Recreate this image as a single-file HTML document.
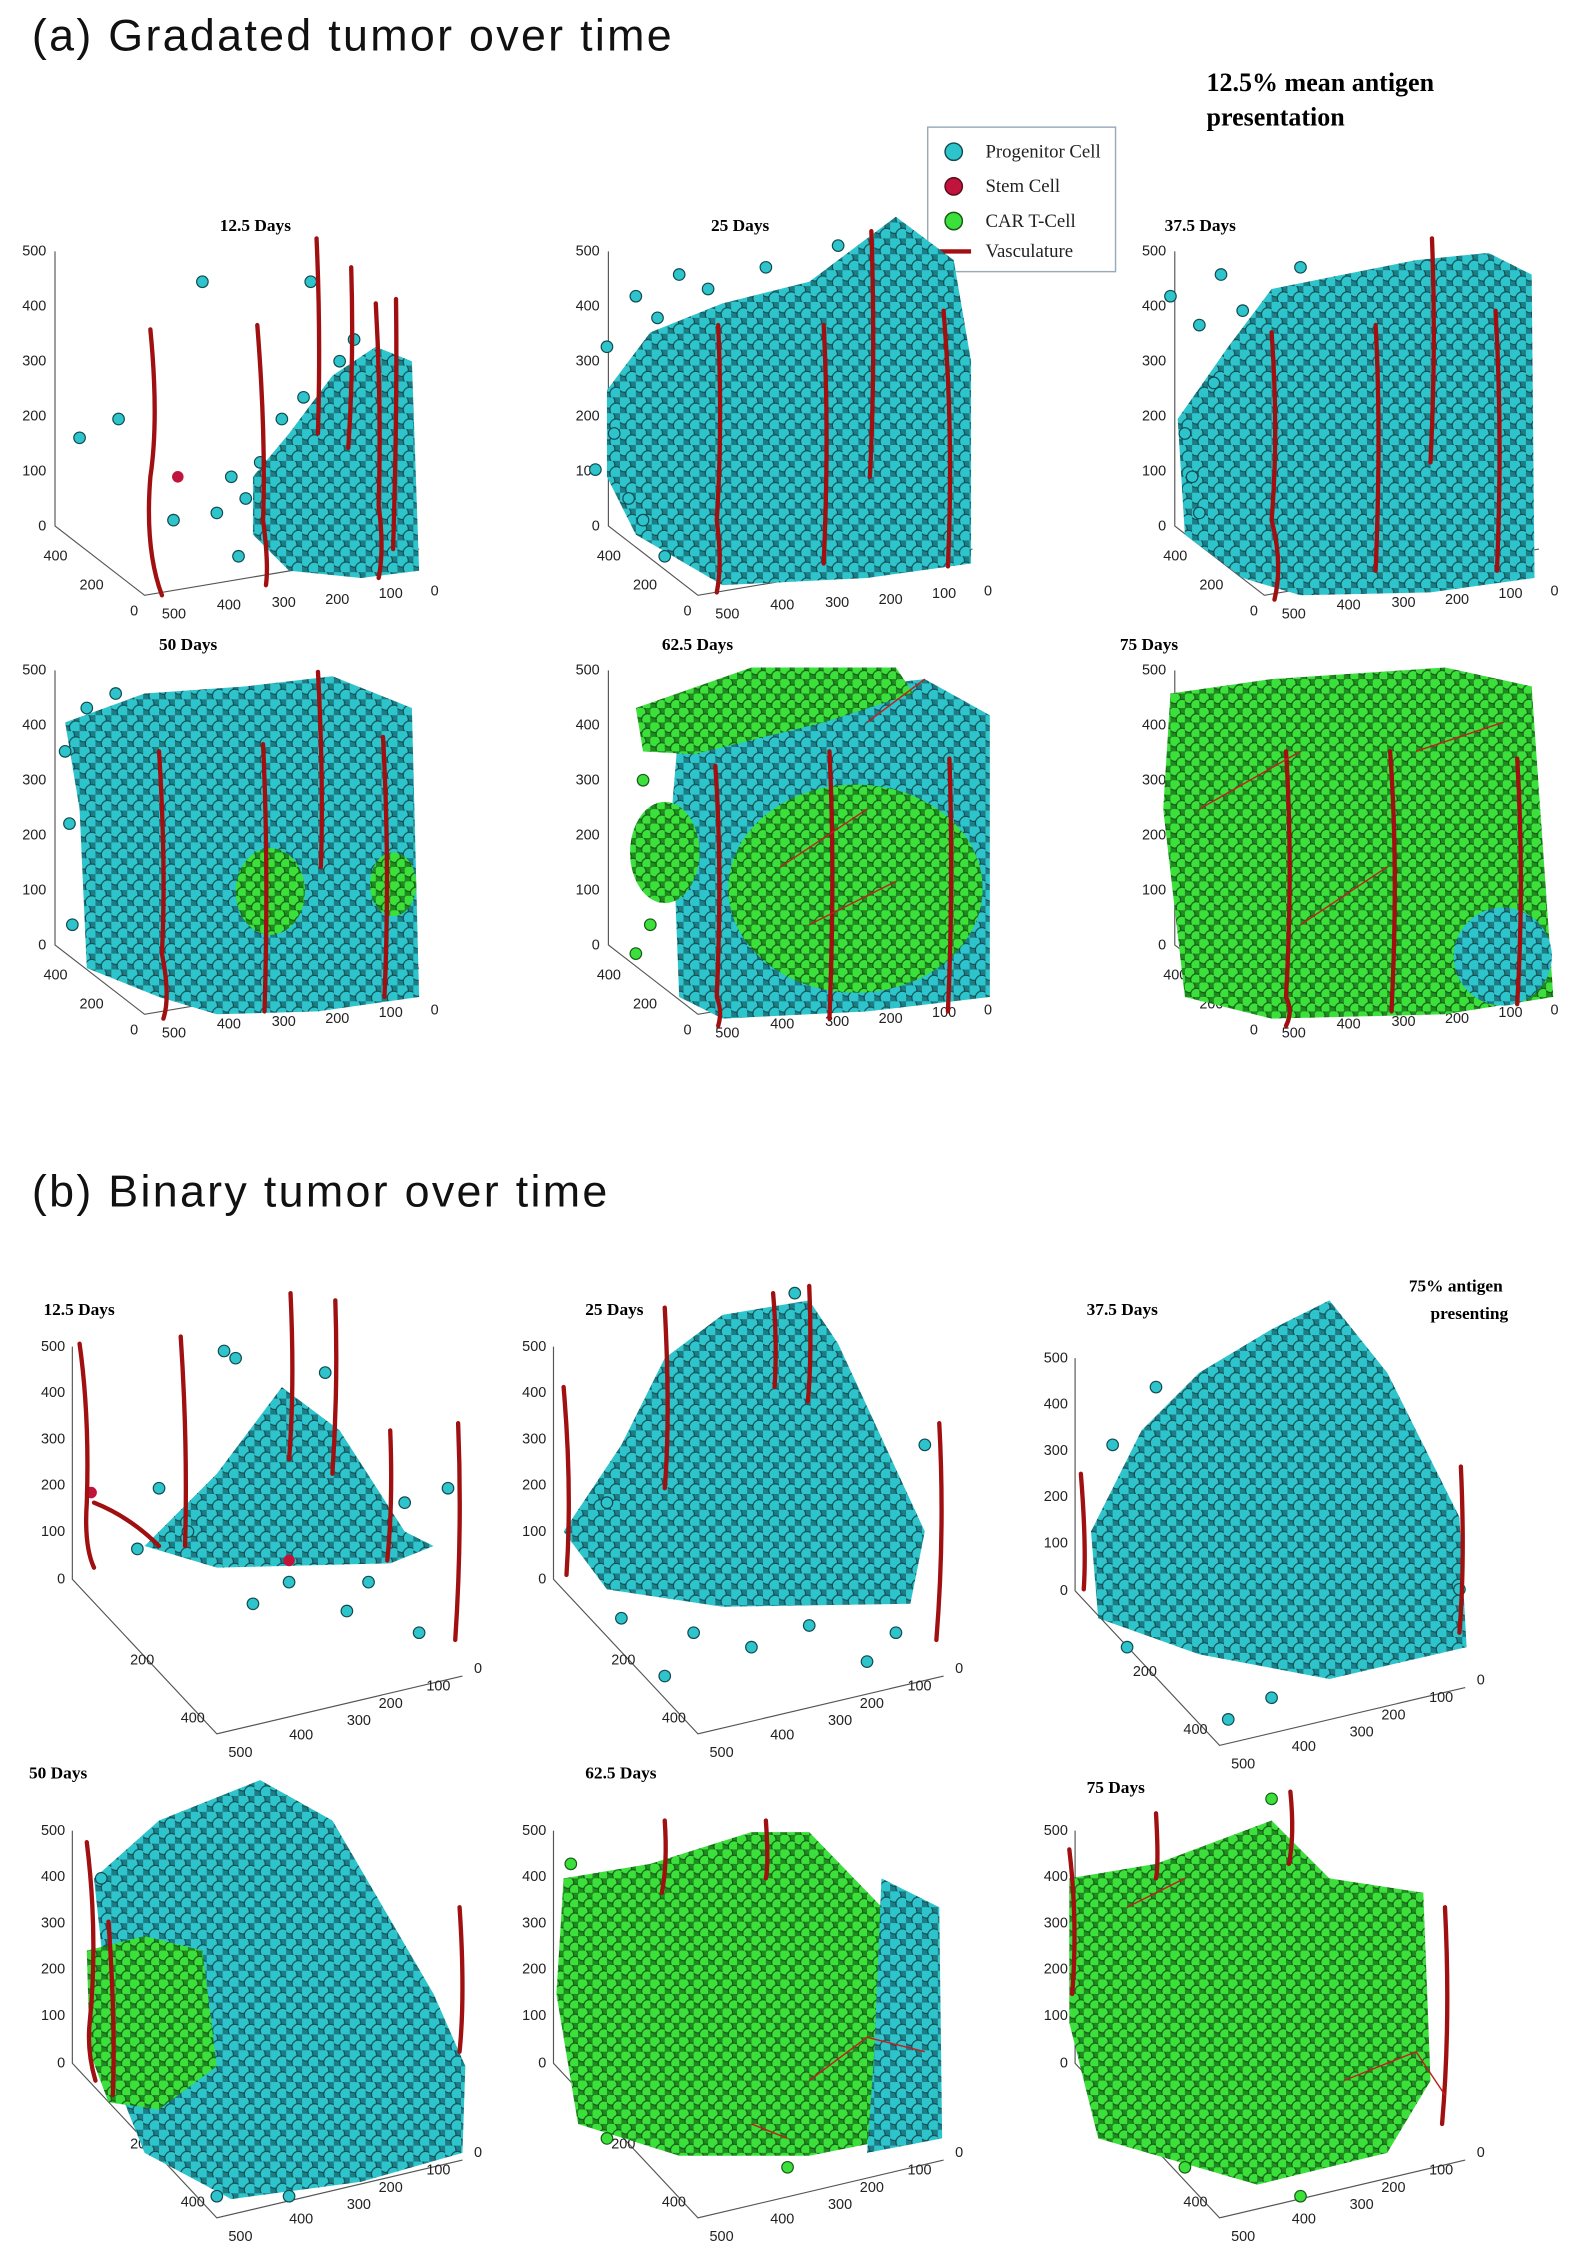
<!DOCTYPE html>
<html><head><meta charset="utf-8">
<style>
html,body{margin:0;padding:0;background:#fff;}
svg{display:block;}
.t{font-family:"Liberation Serif",serif;font-weight:bold;font-size:12px;fill:#000;}
.k{font-family:"Liberation Sans",sans-serif;font-size:10px;fill:#222;}
.lg{font-family:"Liberation Serif",serif;font-size:13px;fill:#222;}
.ax{stroke:#555;stroke-width:0.8;fill:none;}
.v{stroke:#a01010;stroke-width:3;fill:none;stroke-linecap:round;}
.vt{stroke:#c02020;stroke-width:1;fill:none;}
.c circle{fill:#2ec4cc;stroke:#134a50;stroke-width:0.8;}
.g circle{fill:#3be03b;stroke:#175a17;stroke-width:0.8;}
</style></head><body>
<svg width="1578" height="2267" viewBox="0 0 1092 1569" xmlns="http://www.w3.org/2000/svg">
<defs>
<pattern id="cy" width="11" height="11" patternUnits="userSpaceOnUse">
<rect width="11" height="11" fill="#1d7d85"/>
<circle cx="3" cy="3" r="4.5" fill="#2ec4cc" stroke="#134a50" stroke-width="0.8"/>
<circle cx="8.5" cy="8.5" r="4.5" fill="#2ec4cc" stroke="#134a50" stroke-width="0.8"/>
</pattern>
<pattern id="gr" width="10" height="10" patternUnits="userSpaceOnUse">
<rect width="10" height="10" fill="#1f8a1f"/>
<circle cx="3" cy="3" r="4" fill="#3be03b" stroke="#175a17" stroke-width="0.8"/>
<circle cx="8" cy="8" r="4" fill="#3be03b" stroke="#175a17" stroke-width="0.8"/>
</pattern>
<g id="axA">
<path class="ax" d="M38 174 V364 L100 412 L290 380"/>
<text class="k" x="32" y="177" text-anchor="end">500</text>
<text class="k" x="32" y="215" text-anchor="end">400</text>
<text class="k" x="32" y="253" text-anchor="end">300</text>
<text class="k" x="32" y="291" text-anchor="end">200</text>
<text class="k" x="32" y="329" text-anchor="end">100</text>
<text class="k" x="32" y="367" text-anchor="end">0</text>
<text class="k" x="30" y="388">400</text>
<text class="k" x="55" y="408">200</text>
<text class="k" x="90" y="426">0</text>
<text class="k" x="112" y="428">500</text>
<text class="k" x="150" y="422">400</text>
<text class="k" x="188" y="420">300</text>
<text class="k" x="225" y="418">200</text>
<text class="k" x="262" y="414">100</text>
<text class="k" x="298" y="412">0</text>
</g>
<g id="axB">
<path class="ax" d="M50 932 V1093 L150 1200 L320 1160"/>
<text class="k" x="45" y="935" text-anchor="end">500</text>
<text class="k" x="45" y="967" text-anchor="end">400</text>
<text class="k" x="45" y="999" text-anchor="end">300</text>
<text class="k" x="45" y="1031" text-anchor="end">200</text>
<text class="k" x="45" y="1063" text-anchor="end">100</text>
<text class="k" x="45" y="1096" text-anchor="end">0</text>
<text class="k" x="90" y="1152">200</text>
<text class="k" x="125" y="1192">400</text>
<text class="k" x="158" y="1216">500</text>
<text class="k" x="200" y="1204">400</text>
<text class="k" x="240" y="1194">300</text>
<text class="k" x="262" y="1182">200</text>
<text class="k" x="295" y="1170">100</text>
<text class="k" x="328" y="1158">0</text>
</g>
</defs>
<rect width="1092" height="1569" fill="#fff"/>

<text x="22" y="35" font-family="Liberation Sans,sans-serif" font-size="31" letter-spacing="1.6" fill="#111">(a)  Gradated tumor over time</text>
<text x="22" y="835" font-family="Liberation Sans,sans-serif" font-size="31" letter-spacing="1.6" fill="#111">(b)  Binary tumor over time</text>
<text x="835" y="63" font-family="Liberation Serif,serif" font-weight="bold" font-size="18">12.5% mean antigen</text>
<text x="835" y="87" font-family="Liberation Serif,serif" font-weight="bold" font-size="18">presentation</text>
<text x="975" y="894" class="t" font-size="14">75% antigen</text>
<text x="990" y="913" class="t" font-size="14">presenting</text>

<!-- legend -->
<rect x="642" y="88" width="130" height="100" fill="#fff" stroke="#9ab" stroke-width="1"/>
<circle cx="660" cy="105" r="6" fill="#2ec4cc" stroke="#134a50"/>
<circle cx="660" cy="129" r="6" fill="#c0143c" stroke="#5a0a1a"/>
<circle cx="660" cy="153" r="6" fill="#3be03b" stroke="#175a17"/>
<line x1="650" y1="174" x2="672" y2="174" stroke="#a01010" stroke-width="3"/>
<text x="682" y="109" class="lg">Progenitor Cell</text>
<text x="682" y="133" class="lg">Stem Cell</text>
<text x="682" y="157" class="lg">CAR T-Cell</text>
<text x="682" y="178" class="lg">Vasculature</text>

<use href="#axA"/>
<use href="#axA" x="383"/>
<use href="#axA" x="775"/>
<use href="#axA" y="290"/>
<use href="#axA" x="383" y="290"/>
<use href="#axA" x="775" y="290"/>
<text class="t" x="152" y="160">12.5 Days</text>
<text class="t" x="492" y="160">25 Days</text>
<text class="t" x="806" y="160">37.5 Days</text>
<text class="t" x="110" y="450">50 Days</text>
<text class="t" x="458" y="450">62.5 Days</text>
<text class="t" x="775" y="450">75 Days</text>

<!-- a1 -->
<polygon fill="url(#cy)" points="175,330 200,300 230,260 260,240 285,250 290,395 250,400 200,395 175,370"/>
<g class="c">
<circle cx="140" cy="195" r="4"/><circle cx="215" cy="195" r="4"/><circle cx="55" cy="303" r="4"/><circle cx="82" cy="290" r="4"/><circle cx="150" cy="355" r="4"/><circle cx="160" cy="330" r="4"/><circle cx="120" cy="360" r="4"/><circle cx="235" cy="250" r="4"/>
<circle cx="170" cy="345" r="4"/><circle cx="195" cy="290" r="4"/><circle cx="210" cy="275" r="4"/><circle cx="245" cy="235" r="4"/><circle cx="180" cy="320" r="4"/><circle cx="165" cy="385" r="4"/></g>
<circle cx="123" cy="330" r="4" fill="#c0143c"/>
<path class="v" d="M104 228 Q110 290 104 330 Q100 380 112 412"/>
<path class="v" d="M178 225 Q184 300 182 360 Q186 390 184 405"/>
<path class="v" d="M219 165 Q222 230 220 300"/>
<path class="v" d="M243 185 Q245 250 241 310"/>
<path class="v" d="M260 210 Q264 280 262 350 Q266 380 262 400"/>
<path class="v" d="M274 207 Q275 280 272 380"/>

<!-- a2 -->
<polygon fill="url(#cy)" points="420,270 450,230 500,210 560,195 620,150 660,180 672,250 672,390 600,400 500,405 440,370 420,330"/>
<g class="c"><circle cx="440" cy="205" r="4"/><circle cx="420" cy="240" r="4"/><circle cx="445" cy="360" r="4"/><circle cx="412" cy="325" r="4"/><circle cx="470" cy="190" r="4"/>
<circle cx="435" cy="345" r="4"/><circle cx="425" cy="300" r="4"/><circle cx="455" cy="220" r="4"/><circle cx="490" cy="200" r="4"/><circle cx="530" cy="185" r="4"/><circle cx="580" cy="170" r="4"/><circle cx="460" cy="385" r="4"/></g>
<path class="v" d="M497 225 Q500 300 496 360 Q500 390 496 410"/>
<path class="v" d="M570 225 Q574 300 570 390"/>
<path class="v" d="M603 160 Q606 250 602 330"/>
<path class="v" d="M653 215 Q660 300 656 392"/>

<!-- a3 -->
<polygon fill="url(#cy)" points="815,290 850,240 880,200 930,190 980,180 1030,175 1060,190 1062,400 990,410 900,412 860,400 820,370"/>
<g class="c"><circle cx="810" cy="205" r="4"/><circle cx="830" cy="225" r="4"/><circle cx="820" cy="300" r="4"/><circle cx="830" cy="355" r="4"/><circle cx="845" cy="190" r="4"/>
<circle cx="840" cy="265" r="4"/><circle cx="860" cy="215" r="4"/><circle cx="825" cy="330" r="4"/><circle cx="900" cy="185" r="4"/></g>
<path class="v" d="M880 230 Q885 300 880 360 Q888 390 882 415"/>
<path class="v" d="M952 225 Q956 300 952 395"/>
<path class="v" d="M991 165 Q994 240 990 320"/>
<path class="v" d="M1035 215 Q1040 300 1036 395"/>

<!-- a4 -->
<polygon fill="url(#cy)" points="55,560 45,500 100,480 170,475 230,468 285,490 290,690 220,700 150,702 110,690 60,670"/>
<ellipse cx="187" cy="617" rx="24" ry="30" fill="url(#gr)"/>
<ellipse cx="272" cy="612" rx="16" ry="22" fill="url(#gr)"/>
<g class="c"><circle cx="45" cy="520" r="4"/><circle cx="48" cy="570" r="4"/><circle cx="50" cy="640" r="4"/><circle cx="60" cy="490" r="4"/><circle cx="80" cy="480" r="4"/></g>
<path class="v" d="M110 520 Q115 600 112 660 Q118 690 113 705"/>
<path class="v" d="M182 515 Q186 600 183 700"/>
<path class="v" d="M220 465 Q224 540 222 600"/>
<path class="v" d="M265 510 Q270 600 266 690"/>

<!-- a5 -->
<polygon fill="url(#cy)" points="470,500 550,480 640,470 685,495 685,690 600,700 500,705 470,690 465,560"/>
<ellipse cx="592" cy="615" rx="88" ry="72" fill="url(#gr)"/>
<polygon fill="url(#gr)" points="440,490 520,462 620,462 632,480 570,500 480,522 445,520"/>
<ellipse cx="460" cy="590" rx="24" ry="35" fill="url(#gr)"/>
<g class="g"><circle cx="445" cy="540" r="4"/><circle cx="450" cy="640" r="4"/><circle cx="440" cy="660" r="4"/></g>
<path class="v" d="M495 530 Q500 600 496 690 Q500 700 497 710"/>
<path class="v" d="M574 520 Q578 600 574 705"/>
<path class="v" d="M657 525 Q660 610 656 700"/>
<path class="vt" d="M540 600 L600 560 M560 640 L620 610 M600 500 L640 470"/>

<!-- a6 -->
<polygon fill="url(#gr)" points="810,480 880,470 1000,462 1060,475 1075,690 1000,702 880,705 820,690 805,560"/>
<ellipse cx="1040" cy="662" rx="34" ry="34" fill="url(#cy)"/>
<path class="v" d="M890 520 Q895 600 890 690 Q895 700 890 710"/>
<path class="v" d="M962 520 Q968 600 963 700"/>
<path class="v" d="M1050 525 Q1055 610 1050 695"/>
<path class="vt" d="M830 560 L900 520 M900 640 L960 600 M980 520 L1040 500"/>

<use href="#axB"/>
<use href="#axB" x="333"/>
<use href="#axB" x="694" y="8"/>
<use href="#axB" y="335"/>
<use href="#axB" x="333" y="335"/>
<use href="#axB" x="694" y="335"/>
<text class="t" x="30" y="910">12.5 Days</text>
<text class="t" x="405" y="910">25 Days</text>
<text class="t" x="752" y="910">37.5 Days</text>
<text class="t" x="20" y="1231">50 Days</text>
<text class="t" x="405" y="1231">62.5 Days</text>
<text class="t" x="752" y="1241">75 Days</text>

<!-- b1 -->
<polygon fill="url(#cy)" points="100,1070 150,1020 195,960 235,990 280,1060 300,1070 270,1082 150,1085"/>
<g class="c"><circle cx="155" cy="935" r="4"/><circle cx="163" cy="940" r="4"/><circle cx="225" cy="950" r="4"/><circle cx="175" cy="1110" r="4"/><circle cx="240" cy="1115" r="4"/><circle cx="290" cy="1130" r="4"/><circle cx="310" cy="1030" r="4"/><circle cx="110" cy="1030" r="4"/>
<circle cx="200" cy="1095" r="4"/><circle cx="255" cy="1095" r="4"/><circle cx="95" cy="1072" r="4"/><circle cx="130" cy="1060" r="4"/><circle cx="280" cy="1040" r="4"/></g>
<circle cx="63" cy="1033" r="4" fill="#c0143c"/><circle cx="200" cy="1080" r="4" fill="#c0143c"/>
<path class="v" d="M55 930 Q62 980 60 1040 Q58 1070 65 1085"/>
<path class="v" d="M65 1040 Q90 1050 110 1070"/>
<path class="v" d="M125 925 Q130 1000 128 1070"/>
<path class="v" d="M201 895 Q204 960 200 1010"/>
<path class="v" d="M232 900 Q234 960 230 1020"/>
<path class="v" d="M270 990 Q272 1040 268 1080"/>
<path class="v" d="M317 985 Q320 1060 315 1135"/>

<!-- b2 -->
<polygon fill="url(#cy)" points="390,1060 430,1000 460,940 500,910 560,900 580,930 640,1060 630,1110 500,1112 420,1100"/>
<g class="c"><circle cx="460" cy="1160" r="4"/><circle cx="520" cy="1140" r="4"/><circle cx="600" cy="1150" r="4"/><circle cx="640" cy="1000" r="4"/><circle cx="430" cy="1120" r="4"/>
<circle cx="480" cy="1130" r="4"/><circle cx="560" cy="1125" r="4"/><circle cx="620" cy="1130" r="4"/><circle cx="550" cy="895" r="4"/><circle cx="420" cy="1040" r="4"/></g>
<path class="v" d="M390 960 Q396 1030 392 1090"/>
<path class="v" d="M460 905 Q464 980 460 1030"/>
<path class="v" d="M535 895 Q538 930 536 960"/>
<path class="v" d="M560 890 Q562 940 559 970"/>
<path class="v" d="M650 985 Q654 1060 648 1135"/>

<!-- b3 -->
<polygon fill="url(#cy)" points="755,1060 790,990 830,950 880,920 920,900 960,950 1010,1050 1015,1140 920,1162 830,1145 760,1120"/>
<g class="c"><circle cx="850" cy="1190" r="4"/><circle cx="880" cy="1175" r="4"/><circle cx="780" cy="1140" r="4"/><circle cx="770" cy="1000" r="4"/><circle cx="800" cy="960" r="4"/><circle cx="1010" cy="1100" r="4"/></g>
<path class="v" d="M748 1020 Q752 1070 750 1100"/>
<path class="v" d="M1011 1015 Q1014 1080 1010 1130"/>

<!-- b4 -->
<polygon fill="url(#cy)" points="65,1300 110,1260 180,1232 230,1260 300,1380 322,1430 320,1490 250,1510 160,1522 100,1490 80,1440"/>
<polygon fill="url(#gr)" points="60,1350 100,1340 140,1350 150,1430 110,1460 75,1455 62,1420"/>
<g class="c"><circle cx="150" cy="1520" r="4"/><circle cx="200" cy="1520" r="4"/><circle cx="70" cy="1300" r="4"/></g>
<path class="v" d="M60 1275 Q68 1340 62 1400 Q60 1420 66 1440"/>
<path class="v" d="M75 1330 Q80 1400 78 1450"/>
<path class="v" d="M318 1320 Q322 1380 318 1420"/>

<!-- b5 -->
<polygon fill="url(#gr)" points="390,1300 450,1290 520,1268 560,1268 620,1330 640,1400 620,1480 560,1492 470,1492 400,1470 385,1380"/>
<polygon fill="url(#cy)" points="610,1300 650,1320 652,1480 600,1490 605,1420"/>
<g class="g"><circle cx="545" cy="1500" r="4"/><circle cx="420" cy="1480" r="4"/><circle cx="395" cy="1290" r="4"/></g>
<path class="v" d="M460 1260 Q462 1290 458 1310"/>
<path class="v" d="M530 1260 Q532 1290 530 1300"/>
<path class="vt" d="M560 1440 L600 1410 L640 1420 M520 1470 L545 1480"/>

<!-- b6 -->
<polygon fill="url(#gr)" points="740,1300 800,1290 880,1260 920,1300 985,1310 990,1440 960,1490 870,1512 760,1480 740,1400"/>
<g class="g"><circle cx="820" cy="1500" r="4"/><circle cx="880" cy="1245" r="4"/><circle cx="900" cy="1520" r="4"/></g>
<path class="v" d="M740 1280 Q746 1330 742 1380"/>
<path class="v" d="M800 1255 Q802 1290 800 1300"/>
<path class="v" d="M893 1240 Q896 1270 892 1290"/>
<path class="v" d="M1000 1320 Q1004 1400 998 1470"/>
<path class="vt" d="M930 1440 L980 1420 L1000 1450 M780 1320 L820 1300"/>
</svg>
</body></html>
